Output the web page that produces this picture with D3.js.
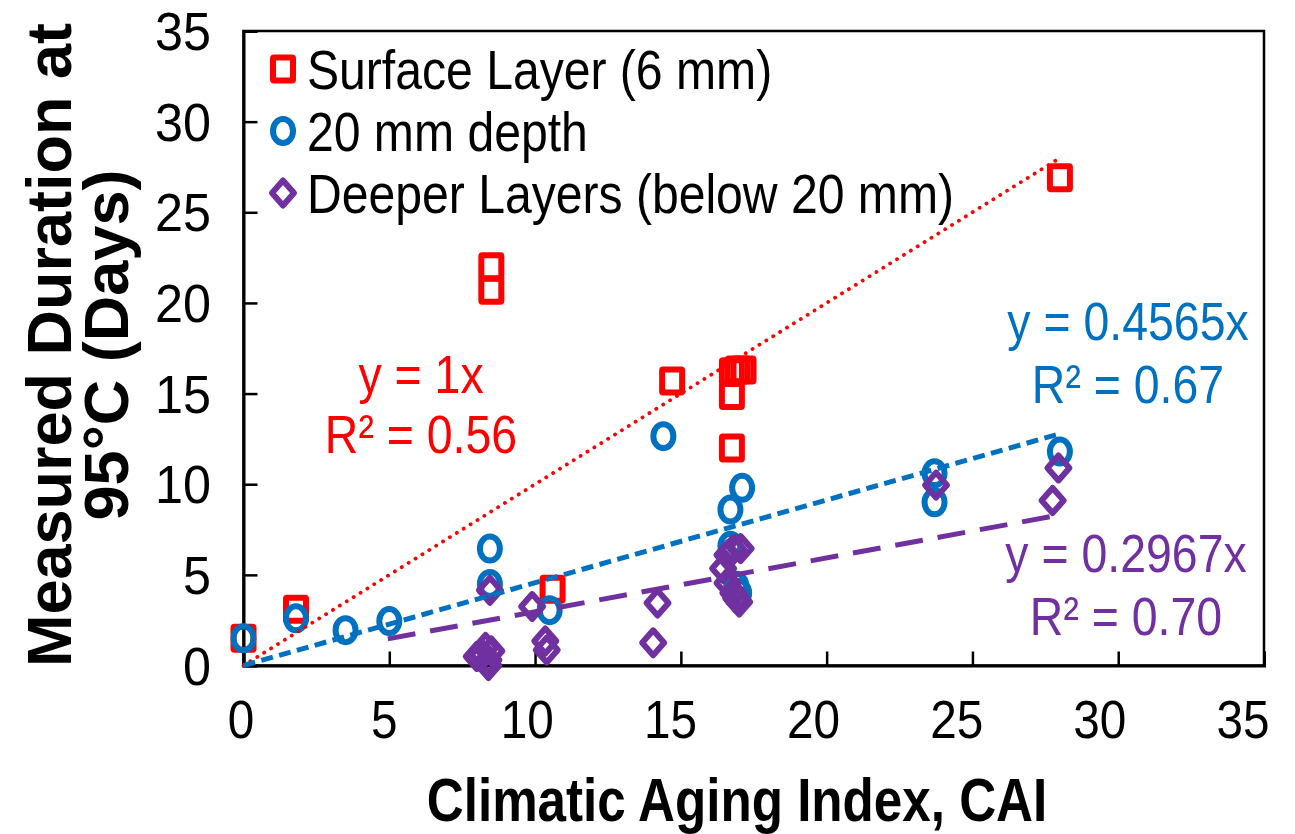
<!DOCTYPE html>
<html>
<head>
<meta charset="utf-8">
<script src="https://cdn.jsdelivr.net/npm/d3@7"></script>
<style>
  html, body { margin: 0; padding: 0; background: #fff; }
  svg { display: block; font-family: "Liberation Sans", Arial, sans-serif; }
</style>
</head>
<body>
<svg id="chart" width="1295" height="834"></svg>
<script>
// Surface layer (6 mm)
const surfaceCAI  = [0, 1.8, 8.5, 8.5, 10.6, 14.7, 16.75, 16.95, 17.15, 16.75, 16.75, 28.0];
const surfaceDays = [1.5, 3.1, 22.0, 20.7, 4.2, 15.7, 16.2, 16.3, 16.3, 14.9, 12.0, 26.9];

// 20 mm depth
const depthCAI  = [0, 1.8, 3.5, 5.0, 8.45, 8.45, 10.5, 14.4, 17.1, 16.7, 16.7, 16.9, 17.0, 23.7, 23.7, 28.0];
const depthDays = [1.5, 2.6, 1.95, 2.45, 6.45, 4.5, 3.05, 12.65, 9.8, 8.6, 6.6, 4.4, 4.0, 10.6, 9.0, 11.8];

// Deeper layers (below 20 mm)
const deeperCAI  = [8.45, 8.0, 8.2, 8.3, 8.5, 8.4, 8.4, 9.9, 10.35, 10.4, 14.2, 14.05, 16.8, 17.05, 16.6, 16.45, 16.6, 16.8, 16.9, 17.0, 23.75, 27.95, 27.75];
const deeperDays = [4.15, 0.5, 0.6, 1.0, 0.8, 0.3, 0.0, 3.25, 1.35, 0.85, 3.45, 1.25, 6.4, 6.45, 6.1, 5.35, 4.55, 4.0, 3.7, 3.5, 9.95, 10.9, 9.1];

// Zero-intercept linear fits: slope and the CAI span each line covers
const seriesNames  = ["Surface Layer (6 mm)", "20 mm depth", "Deeper Layers (below 20 mm)"];
const fitSlopes    = [1, 0.4565, 0.2967];
const fitFrom      = [0, 0, 4.95];
const fitTo        = [27.85, 28.0, 27.65];
const fitEquations = ["y = 1x", "y = 0.4565x", "y = 0.2967x"];
const fitR2        = ["R² = 0.56", "R² = 0.67", "R² = 0.70"];

const xTicks = [0, 5, 10, 15, 20, 25, 30, 35];
const yTicks = [0, 5, 10, 15, 20, 25, 30, 35];

const colors = ["#FF0000", "#0070C0", "#7030A0"];

const svg = d3.select("#chart");
const x = d3.scaleLinear().domain([0, 35]).range([243.5, 1264]);
const y = d3.scaleLinear().domain([0, 35]).range([665.5, 31]);
// tick labels sit on a slightly tighter spacing than the tick marks
const xLabel = d3.scaleLinear().domain([0, 35]).range([241, 1243]);

// frame
svg.append("rect")
  .attr("x", x(0)).attr("y", y(35))
  .attr("width", x(35) - x(0)).attr("height", y(0) - y(35))
  .attr("fill", "none").attr("stroke", "#000").attr("stroke-width", 2.5);

// axes with inward ticks
const xAxis = svg.append("g").attr("transform", `translate(0,${y(0)})`)
  .call(d3.axisTop(x).tickValues(xTicks).tickSize(14).tickFormat(""));
const yAxis = svg.append("g").attr("transform", `translate(${x(0)},0)`)
  .call(d3.axisRight(y).tickValues(yTicks).tickSize(14).tickFormat(""));
[xAxis, yAxis].forEach(g => {
  g.select(".domain").attr("stroke", "#000").attr("stroke-width", 3);
  g.selectAll(".tick line").attr("stroke", "#000").attr("stroke-width", 2.5);
});

function squeezedText(parent, txt, px, py, opts) {
  return parent.append("text")
    .attr("transform", `translate(${px},${py}) scale(${opts.sx || 0.86},1)`)
    .attr("text-anchor", opts.anchor || "start")
    .attr("font-size", opts.size)
    .attr("font-weight", opts.weight || "normal")
    .attr("fill", opts.fill || "#000")
    .text(txt);
}

// tick labels
const tickLabels = svg.append("g");
xTicks.forEach(t => squeezedText(tickLabels, String(t), xLabel(t), 738, { anchor: "middle", size: 53, sx: 0.9 }));
yTicks.forEach(t => squeezedText(tickLabels, String(t), 211, y(t) + 19, { anchor: "end", size: 53, sx: 0.95 }));

// axis titles
squeezedText(svg, "Climatic Aging Index, CAI", 737, 821, { anchor: "middle", size: 62, weight: "bold", sx: 0.825 });
const yTitle = svg.append("g");
[["Measured Duration at", 71], ["95°C (Days)", 128]].forEach(([txt, bx]) => {
  yTitle.append("text")
    .attr("transform", `translate(${bx},345) rotate(-90)`)
    .attr("text-anchor", "middle")
    .attr("font-size", 63).attr("font-weight", "bold")
    .text(txt);
});

// marker shapes (slightly taller than wide)
const MS = 6;
function drawSquare(g, cx, cy, col) {
  g.append("rect").attr("x", cx - 10).attr("y", cy - 11.5).attr("width", 20).attr("height", 23)
    .attr("fill", "none").attr("stroke", col).attr("stroke-width", MS).attr("rx", 1);
}
function drawCircle(g, cx, cy, col) {
  g.append("ellipse").attr("cx", cx).attr("cy", cy).attr("rx", 10).attr("ry", 12)
    .attr("fill", "none").attr("stroke", col).attr("stroke-width", MS);
}
function drawDiamond(g, cx, cy, col) {
  const w = 11, h = 12.5;
  g.append("path").attr("d", `M${cx},${cy - h}L${cx + w},${cy}L${cx},${cy + h}L${cx - w},${cy}Z`)
    .attr("fill", "none").attr("stroke", col).attr("stroke-width", MS).attr("stroke-linejoin", "round");
}
const drawers = [drawSquare, drawCircle, drawDiamond];
const seriesX = [surfaceCAI, depthCAI, deeperCAI];
const seriesY = [surfaceDays, depthDays, deeperDays];

const marks = svg.append("g");
seriesX.forEach((xs, s) => {
  const g = marks.append("g");
  xs.forEach((v, i) => drawers[s](g, x(v), y(seriesY[s][i]), colors[s]));
});

// trend lines
const dashes = [
  { dash: "0.1,8", width: 3.8, cap: "round" },
  { dash: "12,6.5", width: 5, cap: "butt" },
  { dash: "28,15", width: 5, cap: "butt" }
];
const trend = svg.append("g");
fitSlopes.forEach((m, s) => {
  const pts = [fitFrom[s], fitTo[s]].map(v => [x(v), y(m * v)]);
  trend.append("path")
    .attr("d", d3.line()(pts))
    .attr("fill", "none").attr("stroke", colors[s])
    .attr("stroke-width", dashes[s].width)
    .attr("stroke-dasharray", dashes[s].dash)
    .attr("stroke-linecap", dashes[s].cap);
});

// fit equations
const eqPos = [[421, 393, 453], [1128, 340, 403], [1126, 572, 635]];
fitSlopes.forEach((m, s) => {
  const [cx, y1, y2] = eqPos[s];
  squeezedText(svg, fitEquations[s], cx, y1, { anchor: "middle", size: 54, fill: colors[s] });
  squeezedText(svg, fitR2[s], cx, y2, { anchor: "middle", size: 54, fill: colors[s] });
});

// legend
const legend = svg.append("g");
const legendRows = [69, 131, 193];
seriesNames.forEach((name, s) => {
  drawers[s](legend, 283, legendRows[s], colors[s]);
  squeezedText(legend, name, 307, legendRows[s] + 20, { size: 55, sx: 0.875 });
});
</script>
</body>
</html>
